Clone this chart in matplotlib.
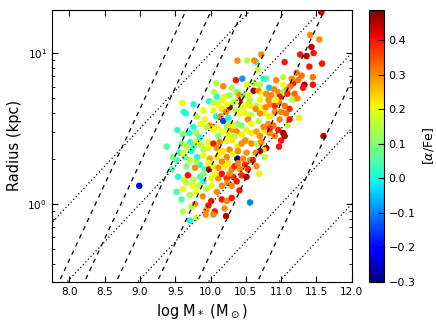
import numpy as np
import matplotlib
matplotlib.use('Agg')
import matplotlib.pyplot as plt

# galaxies: stellar mass, log radius, [alpha/Fe]
log_mass = [10.38, 10.52, 10.64, 11.05, 11.40, 11.58, 10.67, 11.22, 11.29, 11.45,
            10.36, 10.45, 10.75, 10.79, 10.62, 10.18, 10.08, 11.17, 11.33, 11.45,
            11.13, 10.83, 10.90, 10.96, 11.03, 11.09, 11.31, 10.61, 10.68, 10.05,
            10.37, 10.41, 10.47, 10.54, 10.73, 10.79, 10.86, 10.82, 10.98, 11.09,
            11.19, 11.16, 11.23, 10.20, 10.27, 9.98, 10.04, 10.17, 9.60, 10.41,
            10.27, 10.36, 10.51, 10.56, 10.65, 10.72, 10.78, 10.84, 10.91, 10.97,
            11.05, 11.12, 9.62, 9.65, 10.04, 10.16, 10.22, 10.36, 10.41, 10.49,
            10.57, 10.64, 10.77, 10.91, 11.00, 11.07, 11.25, 9.86, 10.08, 10.14,
            10.18, 10.25, 10.27, 10.38, 10.44, 10.53, 10.58, 10.68, 10.82, 10.89,
            10.96, 11.03, 11.05, 11.09, 11.60, 9.53, 9.70, 9.80, 9.85, 9.99,
            10.04, 10.16, 10.30, 10.37, 10.51, 10.58, 10.65, 10.77, 10.84, 10.91,
            10.97, 10.79, 9.38, 9.59, 9.71, 9.76, 9.87, 9.97, 10.04, 10.13,
            10.22, 10.31, 10.38, 10.44, 10.52, 10.58, 10.66, 10.72, 10.75, 10.70,
            10.64, 10.77, 10.38, 9.52, 9.64, 9.71, 9.81, 9.90, 9.99, 10.09,
            10.18, 10.27, 10.46, 10.56, 10.60, 9.56, 9.66, 9.78, 9.85, 9.92,
            9.98, 10.04, 10.11, 10.20, 10.30, 10.34, 10.42, 10.53, 10.69, 9.63,
            9.68, 9.76, 9.85, 9.90, 10.01, 10.11, 10.16, 10.23, 10.32, 10.44,
            10.51, 9.61, 9.75, 9.84, 9.94, 10.01, 10.16, 10.24, 10.41, 9.52,
            9.71, 9.89, 9.59, 9.78, 9.97, 10.01, 10.16, 10.23, 10.30, 10.56,
            9.61, 9.73, 9.94, 10.06, 10.20, 10.04, 10.22, 9.71, 9.80, 9.93,
            11.57, 11.41, 11.54, 11.43, 11.27, 11.36, 11.46, 10.72, 10.62, 8.99,
            9.94, 10.09, 10.23, 10.32, 10.11, 10.25, 10.34, 10.44, 10.49, 9.90,
            9.97, 10.09, 10.13, 10.23, 10.32, 10.39, 10.51, 9.73, 9.80, 9.97,
            10.16, 10.25, 10.39, 10.49, 10.65, 9.90, 10.06, 10.27, 10.37, 10.30,
            10.09, 9.80, 9.66, 9.54, 9.45, 9.47, 9.61, 9.66, 9.80, 9.61,
            9.76, 9.92, 9.80, 9.90, 9.76, 10.70, 10.84, 10.98, 10.75, 10.84,
            10.70, 11.00, 11.12, 10.93, 10.70, 10.56, 10.46, 10.32, 10.23, 10.11,
            10.09, 10.30, 10.51, 10.70, 10.93, 11.03, 11.15, 11.24, 11.03]
log_radius = [0.95, 0.95, 0.94, 0.94, 0.91, 0.93, 0.89, 0.87, 0.85, 0.84,
              0.82, 0.83, 0.83, 0.83, 0.80, 0.78, 0.80, 0.80, 0.79, 0.79,
              0.78, 0.77, 0.76, 0.74, 0.74, 0.76, 0.77, 0.75, 0.75, 0.74,
              0.74, 0.72, 0.72, 0.72, 0.73, 0.73, 0.72, 0.69, 0.71, 0.73,
              0.73, 0.69, 0.70, 0.71, 0.72, 0.68, 0.67, 0.69, 0.67, 0.68,
              0.64, 0.68, 0.66, 0.65, 0.65, 0.64, 0.64, 0.66, 0.65, 0.67,
              0.65, 0.63, 0.61, 0.60, 0.62, 0.63, 0.61, 0.62, 0.60, 0.60,
              0.59, 0.63, 0.60, 0.61, 0.61, 0.60, 0.57, 0.53, 0.58, 0.58,
              0.55, 0.57, 0.53, 0.53, 0.52, 0.56, 0.53, 0.55, 0.53, 0.52,
              0.49, 0.47, 0.45, 0.52, 0.45, 0.49, 0.47, 0.47, 0.44, 0.52,
              0.49, 0.48, 0.49, 0.48, 0.49, 0.47, 0.48, 0.48, 0.47, 0.45,
              0.38, 0.37, 0.38, 0.40, 0.41, 0.38, 0.39, 0.41, 0.40, 0.41,
              0.42, 0.42, 0.38, 0.40, 0.42, 0.40, 0.40, 0.41, 0.36, 0.35,
              0.34, 0.31, 0.30, 0.29, 0.31, 0.29, 0.31, 0.32, 0.30, 0.31,
              0.35, 0.36, 0.30, 0.29, 0.29, 0.34, 0.25, 0.24, 0.26, 0.23,
              0.23, 0.25, 0.24, 0.25, 0.23, 0.25, 0.23, 0.23, 0.20, 0.16,
              0.19, 0.16, 0.18, 0.15, 0.17, 0.17, 0.20, 0.17, 0.18, 0.19,
              0.18, 0.10, 0.12, 0.12, 0.10, 0.12, 0.12, 0.14, 0.09, 0.08,
              0.06, 0.05, 0.03, 0.00, -0.01, 0.02, 0.03, 0.02, 0.04, 0.01,
              -0.05, -0.02, -0.04, -0.05, -0.03, -0.07, -0.08, -0.11, -0.09, -0.07,
              1.27, 1.12, 1.09, 1.04, 0.99, 0.98, 1.00, 0.99, 0.95, 0.12,
              0.51, 0.51, 0.51, 0.52, 0.45, 0.46, 0.45, 0.46, 0.42, 0.36,
              0.37, 0.37, 0.34, 0.31, 0.33, 0.35, 0.34, 0.35, 0.28, 0.27,
              0.28, 0.27, 0.27, 0.26, 0.25, 0.20, 0.20, 0.20, 0.15, 0.12,
              0.08, 0.08, 0.14, 0.18, 0.23, 0.31, 0.34, 0.38, 0.41, 0.46,
              0.51, 0.56, 0.58, 0.62, 0.66, 0.60, 0.58, 0.56, 0.51, 0.50,
              0.45, 0.42, 0.56, 0.69, 0.69, 0.69, 0.64, 0.67, 0.66, 0.66,
              0.71, 0.77, 0.79, 0.79, 0.82, 0.84, 0.83, 0.82, 0.79]
alpha_fe = [0.30, 0.15, 0.00, 0.40, 0.40, 0.40, 0.17, 0.32, 0.32, 0.32,
            0.40, -0.08, 0.00, 0.05, 0.15, 0.30, 0.15, 0.40, 0.46, 0.40,
            0.32, -0.05, 0.30, 0.30, 0.13, 0.30, 0.40, 0.46, 0.30, 0.15,
            0.12, 0.30, 0.10, 0.20, 0.20, 0.30, 0.30, 0.30, 0.40, 0.38,
            0.33, 0.15, 0.30, 0.19, 0.12, 0.00, 0.15, 0.20, 0.20, 0.46,
            0.46, 0.20, 0.20, 0.22, 0.15, 0.20, 0.30, 0.30, 0.38, 0.30,
            0.32, 0.38, 0.00, 0.00, 0.20, 0.22, 0.30, 0.15, 0.20, 0.20,
            0.15, 0.30, 0.22, 0.30, 0.30, 0.32, 0.22, 0.20, 0.00, 0.30,
            -0.15, 0.00, 0.16, 0.10, 0.10, 0.30, 0.20, 0.15, 0.30, 0.32,
            0.38, 0.46, 0.45, 0.15, 0.45, 0.02, 0.00, 0.13, 0.02, 0.30,
            0.20, 0.20, 0.28, 0.30, 0.20, 0.22, 0.28, 0.22, 0.30, 0.30,
            0.40, 0.45, 0.05, 0.10, 0.02, 0.05, 0.15, 0.20, 0.40, 0.30,
            0.20, 0.22, 0.22, 0.30, 0.22, 0.30, 0.15, 0.30, 0.22, 0.45,
            0.30, 0.15, -0.28, 0.05, 0.06, 0.15, 0.00, 0.20, 0.28, 0.22,
            0.22, 0.30, 0.30, 0.30, 0.38, 0.00, 0.10, 0.30, 0.00, 0.05,
            0.45, 0.20, 0.30, 0.22, 0.30, 0.38, 0.30, 0.38, 0.22, 0.20,
            0.40, 0.15, 0.05, 0.00, 0.20, 0.30, 0.40, 0.38, 0.38, 0.38,
            0.45, 0.20, 0.20, 0.15, 0.15, 0.20, 0.30, 0.30, 0.40, 0.05,
            0.15, 0.30, 0.05, 0.30, 0.40, 0.40, 0.40, 0.30, 0.40, -0.10,
            0.15, 0.15, 0.30, 0.40, 0.30, 0.30, 0.45, 0.00, 0.15, 0.30,
            0.42, 0.30, 0.30, 0.45, 0.40, 0.45, 0.40, 0.30, 0.30, -0.20,
            0.15, 0.20, 0.15, 0.20, 0.10, 0.20, 0.15, 0.22, 0.30, 0.15,
            0.20, 0.30, 0.22, 0.30, 0.20, 0.30, 0.30, 0.00, 0.13, 0.20,
            0.30, 0.22, 0.30, 0.38, 0.30, 0.10, 0.20, 0.30, 0.40, 0.30,
            0.30, 0.20, 0.15, 0.00, 0.05, 0.10, 0.20, 0.15, 0.20, 0.10,
            0.00, 0.20, 0.15, 0.20, 0.00, 0.30, 0.22, 0.30, 0.30, 0.38,
            0.30, 0.40, 0.40, 0.20, 0.20, 0.15, 0.20, 0.15, 0.20, 0.20,
            0.02, 0.15, 0.20, 0.15, 0.30, 0.15, 0.30, 0.32, 0.20]

# guide lines: log R = log M + c (dashed) and log R = 0.5 log M + c (dotted)
dashed_offsets = [-8.37, -8.73, -9.18, -9.76, -10.33, -11.18]
dotted_offsets = [-4.0, -4.5, -5.0, -5.5, -6.0]

fig = plt.figure(figsize=(4.36, 3.27), dpi=100)
ax = fig.add_axes([0.1186, 0.1385, 0.6881, 0.8309])
cax = fig.add_axes([0.8463, 0.1385, 0.0333, 0.8309])

xx = np.array([7.0, 13.0])
for c in dashed_offsets:
    ax.plot(xx, 10 ** (xx + c), color='k', ls=(0, (3.6, 3.6)), lw=0.9, zorder=3)
for c in dotted_offsets:
    ax.plot(xx, 10 ** (0.5 * xx + c), color='k', ls=(0, (1, 2)), lw=0.9, zorder=3)

sc = ax.scatter(log_mass, 10 ** np.array(log_radius), c=alpha_fe, cmap='jet',
                vmin=-0.3, vmax=0.487, s=22, edgecolors='none', zorder=2)

ax.set_yscale('log')
ax.set_xlim(7.75, 12.0)
ax.set_ylim(10 ** -0.515, 10 ** 1.285)
ax.set_xticks(np.arange(8.0, 12.01, 0.5))
ax.tick_params(which='both', direction='in', top=True, right=True, labelsize=7.5)
ax.tick_params(which='major', length=4)
ax.tick_params(which='minor', length=2)
ax.set_xlabel(r'log M$_*$ (M$_\odot$)', fontsize=10.5)
ax.set_ylabel('Radius (kpc)', fontsize=10.5)

cb = fig.colorbar(sc, cax=cax, ticks=np.arange(-0.3, 0.41, 0.1))
cb.ax.tick_params(labelsize=8, direction='in', length=4)
cb.outline.set_linewidth(0.8)
cb.set_label(r'[$\alpha$/Fe]', fontsize=9)

fig.savefig('out.png', dpi=100, facecolor='white')
